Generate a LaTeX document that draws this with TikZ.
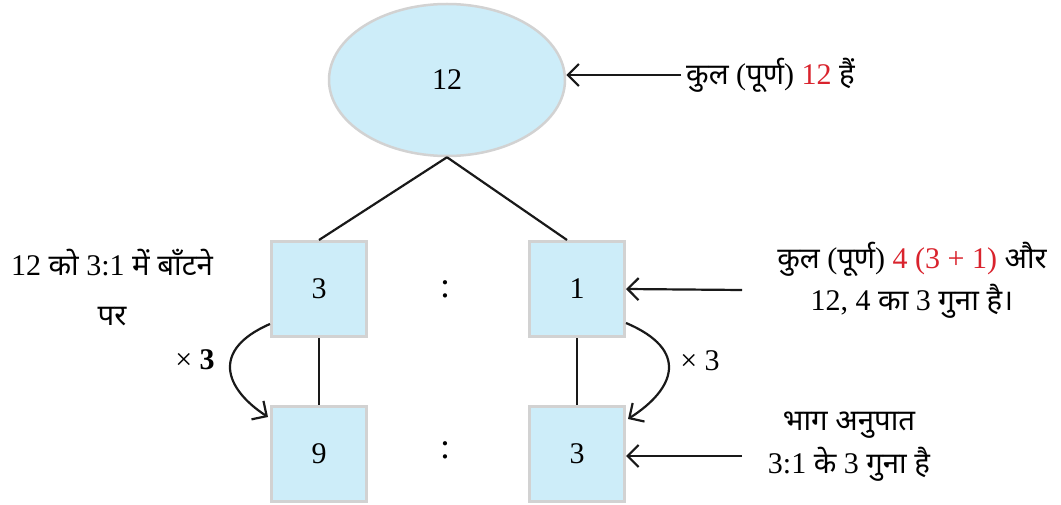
\documentclass[tikz,border=0pt]{standalone}
\usepackage{fontspec}
\setmainfont{Liberation Serif}
\newfontfamily\dev[Script=Devanagari,Scale=0.98]{Noto Sans}
\usetikzlibrary{arrows.meta,calc,shapes.geometric}
\definecolor{boxfill}{HTML}{CDEDF9}
\definecolor{boxline}{HTML}{D2D2D2}
\definecolor{numred}{HTML}{D9232D}

\begin{document}
\begin{tikzpicture}[x=1pt,y=-1pt,
  every node/.style={font=\fontsize{30}{36}\selectfont, inner sep=0pt},
  cell/.style={draw=boxline, line width=3pt, fill=boxfill, minimum size=95pt},
  whole/.style={ellipse, draw=boxline, line width=2.5pt, fill=boxfill,
    minimum width=236pt, minimum height=152pt},
  link/.style={line width=2.2pt, draw=black!90},
  arr/.style={link, -{Straight Barb[length=11pt,width=22pt,line width=2.2pt]}},
  ratio/.style={font=\fontsize{36}{40}\selectfont},
  note/.style={align=center},
]
\path[use as bounding box] (0,0) rectangle (1061,505);

% the whole and its two parts
\node[whole] (e) at (447,80) {12};
\node[cell] (l1) at (319,289) {3};
\node[cell] (r1) at (577,289) {1};
\node[cell] (l2) at (319,454) {9};
\node[cell] (r2) at (577,454) {3};
\node[ratio] (c1) at (445,289) {:};
\node[ratio] (c2) at (445,450) {:};

% tree lines
\draw[link] (e.south) -- (l1.north);
\draw[link] (e.south) -- ([xshift=-10pt]r1.north);
\draw[link] (l1.south) -- (l2.north);
\draw[link] (r1.south) -- (r2.north);

% multiply-by-three arcs
\draw[arr] ($(l1.south west)+(0,-14)$) .. controls (210,350) and (225,389) .. ($(l2.north west)+(-2,12)$);
\draw[arr] ($(r1.south east)+(0,-15)$) .. controls (690,350) and (675,389) .. ($(r2.north east)+(2,14)$);
\node (m1) at (195,360) {× \textbf{3}};
\node (m2) at (700,361) {× 3};

% notes
\node[anchor=west, inner xsep=5pt] (t1) at (681,75) {{\dev कुल} ({\dev पूर्ण}) \textcolor{numred}{12} {\dev हैं}};
\draw[arr] (t1.west) -- (t1.west -| e.east);

\node[note, font=\fontsize{30}{50}\selectfont] (n1) at (112,288)
  {12 {\dev को} 3:1 {\dev में बाँटने}\\{\dev पर}};

\node[note, font=\fontsize{30}{42}\selectfont] (n2) at (912,280)
  {{\dev कुल} ({\dev पूर्ण}) \textcolor{numred}{4 (3 + 1)} {\dev और}\\12, 4 {\dev का} 3 {\dev गुना है।}};
\coordinate (a2) at (742,290);
\draw[arr] (a2) -- (r1.east);

\node[note, font=\fontsize{30}{43}\selectfont] (n3) at (849,447)
  {{\dev भाग अनुपात}\\3:1 {\dev के} 3 {\dev गुना है}};
\coordinate (a3) at (742,456);
\draw[arr] (a3) -- (a3 -| r2.east);
\end{tikzpicture}
\end{document}
